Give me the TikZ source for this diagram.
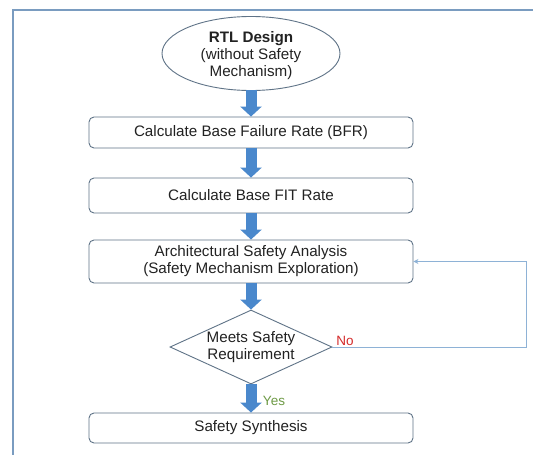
\documentclass[tikz,border=0pt]{standalone}
\usepackage{fontspec}
\setmainfont{Liberation Sans}
\usetikzlibrary{shapes.geometric,arrows.meta}

\definecolor{frameblue}{HTML}{7A9CC0}
\definecolor{edgegray}{HTML}{5F7387}
\definecolor{flowblue}{HTML}{4A88CC}
\definecolor{loopblue}{HTML}{8EB2D6}
\definecolor{noRed}{HTML}{D42A2A}
\definecolor{yesGreen}{HTML}{6E9A45}
\definecolor{inktext}{HTML}{222222}

\begin{document}
\begin{tikzpicture}[x=1pt,y=-1pt,
  every node/.style={font=\fontsize{15.2}{17}\selectfont, text=inktext},
  stepbox/.style={draw=edgegray, line width=0.9pt, rounded corners=5pt,
    minimum width=324pt, minimum height=#1, inner sep=0pt, align=center},
  stepbox/.default=32pt,
  startnode/.style={draw=edgegray, line width=0.9pt, ellipse,
    minimum width=178pt, minimum height=74pt, inner sep=0pt, align=center},
  decision/.style={draw=edgegray, line width=0.9pt, diamond, aspect=2.2,
    minimum width=162pt, minimum height=74pt, inner sep=0pt, align=center},
  flow/.style={draw=flowblue, line width=11pt,
    -{Triangle[width=21pt,length=10pt]}, shorten <=-0.5pt},
  loopline/.style={draw=loopblue, line width=0.8pt,
    -{Stealth[width=5pt,length=5pt]}},
  branch/.style={font=\fontsize{13.5}{15}\selectfont}
]
  % canvas and the outer frame (only top and left edges are visible)
  \useasboundingbox (0,0) rectangle (533,455);
  \fill[white] (0,0) rectangle (533,455);
  \draw[frameblue, line width=2pt] (533,9.5) -- (13,9.5) -- (13,455);

  % process chain
  \node[startnode] (rtl) at (251,53.5) {};
  \node (rtltext) at (251,56) [align=center]
    {\textbf{RTL Design}\\(without Safety\\Mechanism)};
  \node[stepbox=31pt] (bfr)  at (251,132.5) {Calculate Base Failure Rate (BFR)};
  \node[stepbox=35pt] (fit)  at (251,195.5) {Calculate Base FIT Rate};
  \node[stepbox=43pt] (asa)  at (251,261.5)
    {Architectural Safety Analysis\\(Safety Mechanism Exploration)};
  \node[decision] (meets) at (251,347) {Meets Safety\\Requirement};
  \node[stepbox=30pt] (syn)  at (251,428) {Safety Synthesis};

  % thick block arrows between the steps
  \draw[flow] (rtl.south)   -- (bfr.north);
  \draw[flow] (bfr.south)   -- (fit.north);
  \draw[flow] (fit.south)   -- (asa.north);
  \draw[flow] (asa.south)   -- (meets.north);
  \draw[flow] (meets.south) -- (syn.north);

  % feedback loop when the requirement is not met
  \coordinate (loopcorner) at (526.5,347);
  \draw[loopline] (meets.east) -- (loopcorner) |- (asa.east);

  % branch labels
  \node[branch, text=noRed]    (nolabel)  at (345,341) {No};
  \node[branch, text=yesGreen] (yeslabel) at (274,401) {Yes};
\end{tikzpicture}
\end{document}
